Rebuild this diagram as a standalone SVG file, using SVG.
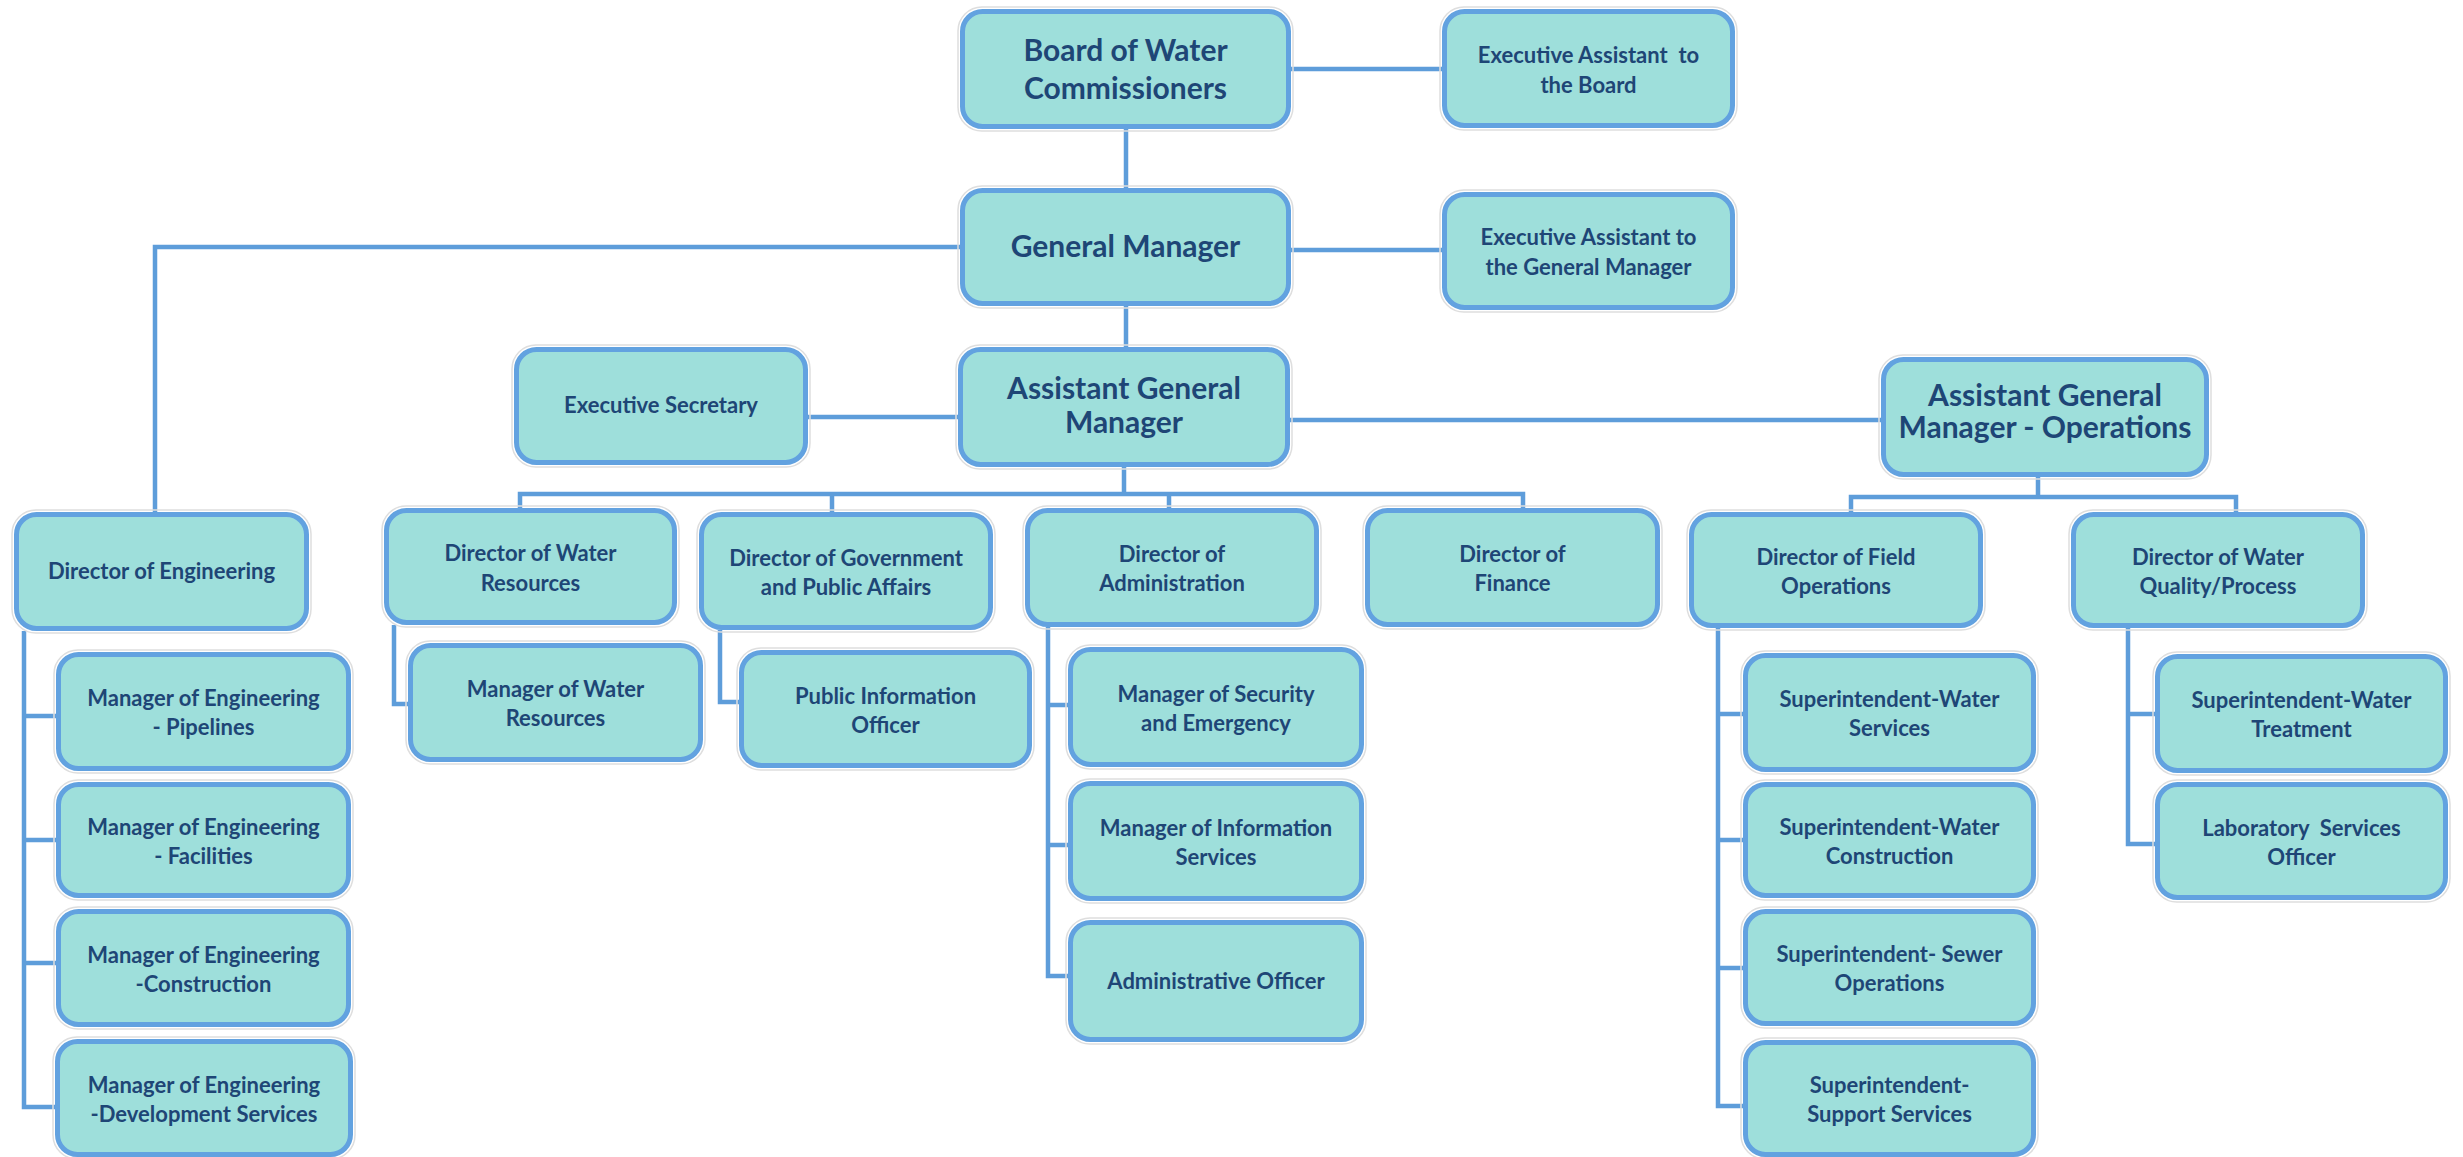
<svg xmlns="http://www.w3.org/2000/svg" width="2463" height="1157" viewBox="0 0 2463 1157">
<style>
.box{fill:#9EDFDB;stroke:#62A2E0;stroke-width:5}
.halo{fill:none;stroke:#DEDEDE;stroke-width:1.5}
.conn{fill:none;stroke:#5E9DDA;stroke-width:4.5;stroke-linecap:butt;stroke-linejoin:miter}
text{font-family:Lato,"Open Sans","Liberation Sans",sans-serif;font-weight:700;fill:#1E4676;text-anchor:middle}
.L{font-size:30px}
.S{font-size:22px}
</style>
<rect width="2463" height="1157" fill="#FFFFFF"/>
<g id="connectors">
<path class="conn" d="M1291 69H1442 M1126 129V188 M1291 250H1442 M1126 306V347 M960 247H155V512 M808 417H958 M1290 420H1881"/>
<path class="conn" d="M1124 467V494 M520 508V494H1523V508 M832 494V512 M1169 494V508"/>
<path class="conn" d="M394 625V704H408 M720 630V702H739"/>
<path class="conn" d="M1048 627V976H1068 M1048 705H1068 M1048 845H1068"/>
<path class="conn" d="M24 631V1107H56 M24 716H56 M24 840H56 M24 963H56"/>
<path class="conn" d="M2038 477V497 M1851 512V497H2236V512"/>
<path class="conn" d="M1718 628V1106H1743 M1718 714H1743 M1718 840H1743 M1718 968H1743"/>
<path class="conn" d="M2128 628V844H2155 M2128 714H2155"/>
</g>
<g id="board"><rect class="halo" x="958" y="7" width="335" height="124" rx="24"/><rect class="box" x="962.5" y="11.5" width="326" height="115" rx="20"/><text class="L" x="1125.5" y="61">Board of Water</text><text class="L" x="1125.5" y="99">Commissioners</text></g>
<g id="ea-board"><rect class="halo" x="1440" y="7" width="297" height="123" rx="24"/><rect class="box" x="1444.5" y="11.5" width="288" height="114" rx="20"/><text class="S" x="1588.5" y="62.5" xml:space="preserve">Executive Assistant  to</text><text class="S" x="1588.5" y="92.5">the Board</text></g>
<g id="gm"><rect class="halo" x="958" y="186" width="335" height="122" rx="24"/><rect class="box" x="962.5" y="190.5" width="326" height="113" rx="20"/><text class="L" x="1125.5" y="257">General Manager</text></g>
<g id="ea-gm"><rect class="halo" x="1440" y="190" width="297" height="122" rx="24"/><rect class="box" x="1444.5" y="194.5" width="288" height="113" rx="20"/><text class="S" x="1588.5" y="245">Executive Assistant to</text><text class="S" x="1588.5" y="275">the General Manager</text></g>
<g id="agm"><rect class="halo" x="956" y="345" width="336" height="124" rx="24"/><rect class="box" x="960.5" y="349.5" width="327" height="115" rx="20"/><text class="L" x="1124" y="399">Assistant General</text><text class="L" x="1124" y="433">Manager</text></g>
<g id="exec-secretary"><rect class="halo" x="512" y="345" width="298" height="122" rx="24"/><rect class="box" x="516.5" y="349.5" width="289" height="113" rx="20"/><text class="S" x="661" y="413">Executive Secretary</text></g>
<g id="agm-ops"><rect class="halo" x="1879" y="355" width="332" height="124" rx="24"/><rect class="box" x="1883.5" y="359.5" width="323" height="115" rx="20"/><text class="L" x="2045" y="406">Assistant General</text><text class="L" x="2045" y="438">Manager - Operations</text></g>
<g id="dir-engineering"><rect class="halo" x="12" y="510" width="299" height="123" rx="24"/><rect class="box" x="16.5" y="514.5" width="290" height="114" rx="20"/><text class="S" x="161.5" y="579">Director of Engineering</text></g>
<g id="mgr-eng-pipelines"><rect class="halo" x="54" y="650" width="299" height="123" rx="24"/><rect class="box" x="58.5" y="654.5" width="290" height="114" rx="20"/><text class="S" x="203.5" y="706">Manager of Engineering</text><text class="S" x="203.5" y="735">- Pipelines</text></g>
<g id="mgr-eng-facilities"><rect class="halo" x="54" y="780" width="299" height="120" rx="24"/><rect class="box" x="58.5" y="784.5" width="290" height="111" rx="20"/><text class="S" x="203.5" y="834.5">Manager of Engineering</text><text class="S" x="203.5" y="863.5">- Facilities</text></g>
<g id="mgr-eng-construction"><rect class="halo" x="54" y="907" width="299" height="122" rx="24"/><rect class="box" x="58.5" y="911.5" width="290" height="113" rx="20"/><text class="S" x="203.5" y="962.5">Manager of Engineering</text><text class="S" x="203.5" y="991.5">-Construction</text></g>
<g id="mgr-eng-development"><rect class="halo" x="53" y="1037" width="302" height="122" rx="24"/><rect class="box" x="57.5" y="1041.5" width="293" height="113" rx="20"/><text class="S" x="204" y="1093">Manager of Engineering</text><text class="S" x="204" y="1122">-Development Services</text></g>
<g id="dir-water-resources"><rect class="halo" x="382" y="506" width="297" height="121" rx="24"/><rect class="box" x="386.5" y="510.5" width="288" height="112" rx="20"/><text class="S" x="530.5" y="561">Director of Water</text><text class="S" x="530.5" y="591">Resources</text></g>
<g id="mgr-water-resources"><rect class="halo" x="406" y="641" width="299" height="123" rx="24"/><rect class="box" x="410.5" y="645.5" width="290" height="114" rx="20"/><text class="S" x="555.5" y="697">Manager of Water</text><text class="S" x="555.5" y="726">Resources</text></g>
<g id="dir-gov-affairs"><rect class="halo" x="697" y="510" width="298" height="122" rx="24"/><rect class="box" x="701.5" y="514.5" width="289" height="113" rx="20"/><text class="S" x="846" y="565.5">Director of Government</text><text class="S" x="846" y="594.5">and Public Affairs</text></g>
<g id="public-info-officer"><rect class="halo" x="737" y="648" width="297" height="122" rx="24"/><rect class="box" x="741.5" y="652.5" width="288" height="113" rx="20"/><text class="S" x="885.5" y="703.5">Public Information</text><text class="S" x="885.5" y="732.5">Officer</text></g>
<g id="dir-administration"><rect class="halo" x="1023" y="506" width="298" height="123" rx="24"/><rect class="box" x="1027.5" y="510.5" width="289" height="114" rx="20"/><text class="S" x="1172" y="562">Director of</text><text class="S" x="1172" y="591">Administration</text></g>
<g id="mgr-security"><rect class="halo" x="1066" y="645" width="300" height="124" rx="24"/><rect class="box" x="1070.5" y="649.5" width="291" height="115" rx="20"/><text class="S" x="1216" y="701.5">Manager of Security</text><text class="S" x="1216" y="730.5">and Emergency</text></g>
<g id="mgr-info-services"><rect class="halo" x="1066" y="779" width="300" height="124" rx="24"/><rect class="box" x="1070.5" y="783.5" width="291" height="115" rx="20"/><text class="S" x="1216" y="835.5">Manager of Information</text><text class="S" x="1216" y="864.5">Services</text></g>
<g id="admin-officer"><rect class="halo" x="1066" y="918" width="300" height="126" rx="24"/><rect class="box" x="1070.5" y="922.5" width="291" height="117" rx="20"/><text class="S" x="1216" y="989">Administrative Officer</text></g>
<g id="dir-finance"><rect class="halo" x="1363" y="506" width="299" height="123" rx="24"/><rect class="box" x="1367.5" y="510.5" width="290" height="114" rx="20"/><text class="S" x="1512.5" y="562">Director of</text><text class="S" x="1512.5" y="591">Finance</text></g>
<g id="dir-field-ops"><rect class="halo" x="1687" y="510" width="298" height="120" rx="24"/><rect class="box" x="1691.5" y="514.5" width="289" height="111" rx="20"/><text class="S" x="1836" y="564.5">Director of Field</text><text class="S" x="1836" y="593.5">Operations</text></g>
<g id="dir-water-quality"><rect class="halo" x="2069" y="510" width="298" height="120" rx="24"/><rect class="box" x="2073.5" y="514.5" width="289" height="111" rx="20"/><text class="S" x="2218" y="564.5">Director of Water</text><text class="S" x="2218" y="593.5">Quality/Process</text></g>
<g id="supt-water-services"><rect class="halo" x="1741" y="651" width="297" height="123" rx="24"/><rect class="box" x="1745.5" y="655.5" width="288" height="114" rx="20"/><text class="S" x="1889.5" y="707">Superintendent-Water</text><text class="S" x="1889.5" y="736">Services</text></g>
<g id="supt-water-construction"><rect class="halo" x="1741" y="780" width="297" height="120" rx="24"/><rect class="box" x="1745.5" y="784.5" width="288" height="111" rx="20"/><text class="S" x="1889.5" y="834.5">Superintendent-Water</text><text class="S" x="1889.5" y="863.5">Construction</text></g>
<g id="supt-sewer-ops"><rect class="halo" x="1741" y="907" width="297" height="121" rx="24"/><rect class="box" x="1745.5" y="911.5" width="288" height="112" rx="20"/><text class="S" x="1889.5" y="962">Superintendent- Sewer</text><text class="S" x="1889.5" y="991">Operations</text></g>
<g id="supt-support-services"><rect class="halo" x="1741" y="1038" width="297" height="121" rx="24"/><rect class="box" x="1745.5" y="1042.5" width="288" height="112" rx="20"/><text class="S" x="1889.5" y="1093">Superintendent-</text><text class="S" x="1889.5" y="1122">Support Services</text></g>
<g id="supt-water-treatment"><rect class="halo" x="2153" y="652" width="297" height="123" rx="24"/><rect class="box" x="2157.5" y="656.5" width="288" height="114" rx="20"/><text class="S" x="2301.5" y="708">Superintendent-Water</text><text class="S" x="2301.5" y="737">Treatment</text></g>
<g id="lab-services-officer"><rect class="halo" x="2153" y="780" width="297" height="122" rx="24"/><rect class="box" x="2157.5" y="784.5" width="288" height="113" rx="20"/><text class="S" x="2301.5" y="835.5" xml:space="preserve">Laboratory  Services</text><text class="S" x="2301.5" y="864.5">Officer</text></g>
</svg>
